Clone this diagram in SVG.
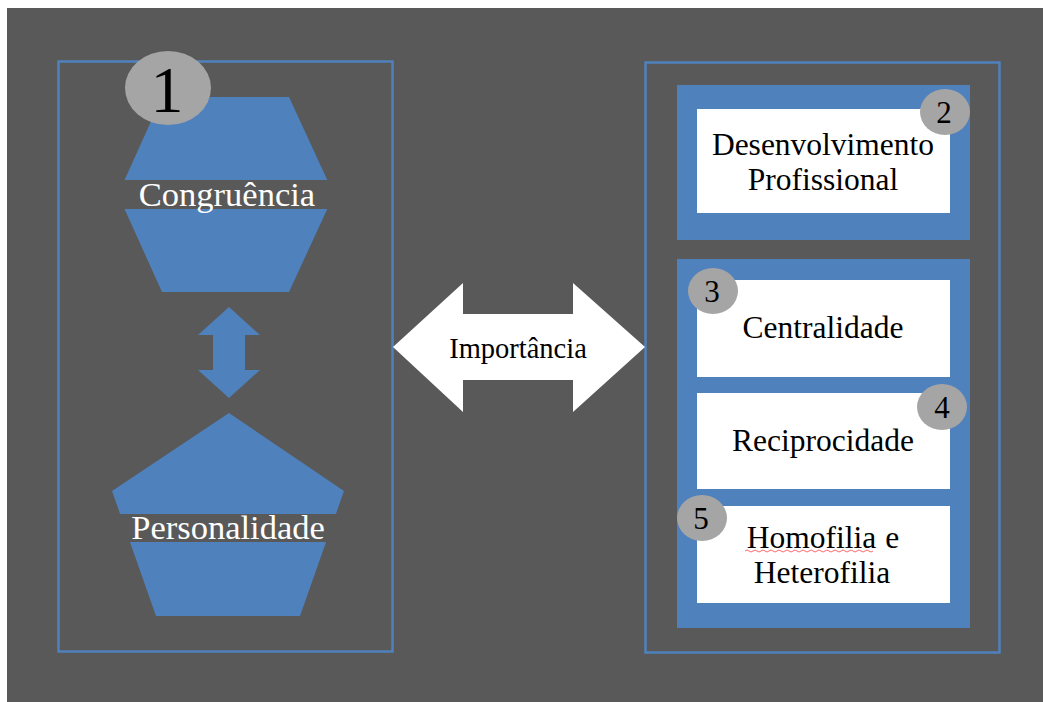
<svg xmlns="http://www.w3.org/2000/svg" width="1043" height="702" viewBox="0 0 1043 702">
<style>
.frame{fill:none;stroke:#4f81bd;stroke-width:2.5}
.blue{fill:#4f81bd}
.white{fill:#ffffff}
.badge{fill:#a5a5a5}
.band{fill:#595959}
.t{font-family:"Liberation Serif","Times New Roman",serif;text-anchor:middle}
.wt{fill:#ffffff}
.bk{fill:#000000}
</style>
<rect x="0" y="0" width="1043" height="702" fill="#ffffff"/>
<rect x="7" y="8" width="1036" height="694" fill="#595959"/>

<g id="left-frame"><rect class="frame" x="58.5" y="61.5" width="334" height="590"/></g>
<g id="right-frame"><rect class="frame" x="645.5" y="62.5" width="354" height="590"/></g>

<g id="congruencia">
<polygon class="blue" points="162,97 289,97 334,194.5 289,292 162,292 118,194.5"/>
<rect class="band" x="110" y="180" width="232" height="29"/>
<text class="t wt" x="227" y="206" font-size="34.5">Congruência</text>
</g>

<g id="badge1">
<ellipse class="badge" cx="168" cy="88" rx="43" ry="37"/>
<text class="t bk" x="167" y="112" font-size="66">1</text>
</g>

<g id="personalidade">
<polygon class="blue" points="229,413 344,491 300,616 156,616 112,491"/>
<rect class="band" x="105" y="514" width="245" height="28"/>
<text class="t wt" x="228" y="539" font-size="34.5">Personalidade</text>
</g>

<g id="connectors">
<polygon class="blue" points="229,307 260,335 245,335 245,370 260,370 229,398 198,370 213,370 213,335 198,335"/>
<polygon class="white" points="393,347 463,283 463,314 573,314 573,283 645,347 573,412 573,380 463,380 463,412"/>
<text class="t bk" x="518" y="358" font-size="28.5">Importância</text>
</g>

<g id="desenvolvimento">
<rect class="blue" x="677" y="85" width="293" height="155"/>
<rect class="white" x="697" y="109" width="253" height="104"/>
<text class="t bk" x="823" y="155" font-size="31.5">Desenvolvimento</text>
<text class="t bk" x="823" y="190" font-size="31.5">Profissional</text>
<ellipse class="badge" cx="945" cy="112" rx="25" ry="23"/>
<text class="t bk" x="944" y="123" font-size="31">2</text>
</g>

<g id="rede">
<rect class="blue" x="677" y="259" width="293" height="369"/>
</g>

<g id="centralidade">
<rect class="white" x="697" y="280" width="253" height="97"/>
<text class="t bk" x="823" y="338" font-size="31.5">Centralidade</text>
<ellipse class="badge" cx="713" cy="291" rx="25" ry="23"/>
<text class="t bk" x="712" y="302" font-size="31">3</text>
</g>

<g id="reciprocidade">
<rect class="white" x="697" y="393" width="253" height="96"/>
<text class="t bk" x="823" y="451" font-size="31.5">Reciprocidade</text>
<ellipse class="badge" cx="942" cy="407" rx="25" ry="23"/>
<text class="t bk" x="942" y="418" font-size="31">4</text>
</g>

<g id="homofilia">
<rect class="white" x="697" y="506" width="253" height="97"/>
<text class="t bk" x="823" y="548" font-size="31.5">Homofilia<tspan dx="9">e</tspan></text>
<path d="M745,551 q2,-2 4,0 t4,0 t4,0 t4,0 t4,0 t4,0 t4,0 t4,0 t4,0 t4,0 t4,0 t4,0 t4,0 t4,0 t4,0 t4,0 t4,0 t4,0 t4,0 t4,0 t4,0 t4,0 t4,0 t4,0 t4,0 t4,0 t4,0 t4,0 t4,0 t4,0 t4,0 t4,0" fill="none" stroke="#ff6b6b" stroke-width="1"/>
<text class="t bk" x="822" y="583" font-size="31.5">Heterofilia</text>
<ellipse class="badge" cx="702" cy="518" rx="25" ry="23"/>
<text class="t bk" x="701" y="529" font-size="31">5</text>
</g>
</svg>
